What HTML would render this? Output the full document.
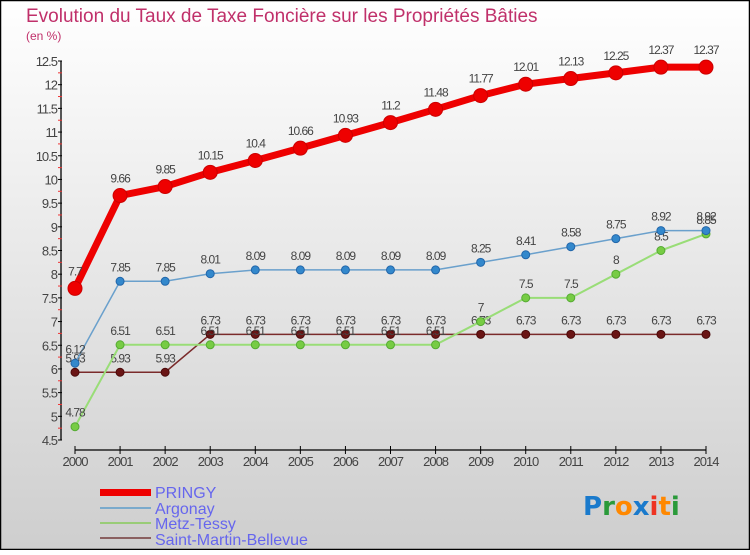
<!DOCTYPE html>
<html><head><meta charset="utf-8"><style>
html,body{margin:0;padding:0}
body{width:750px;height:550px;overflow:hidden;font-family:"Liberation Sans",sans-serif}
</style></head><body>
<svg id="chart" width="750" height="550" xmlns="http://www.w3.org/2000/svg">
<defs><linearGradient id="bg" x1="0" y1="0" x2="0" y2="1"><stop offset="0" stop-color="#ffffff"/><stop offset="1" stop-color="#cecece"/></linearGradient></defs>
<rect x="0.5" y="0.5" width="749" height="549" fill="url(#bg)" stroke="#000" stroke-width="1.5"/>
<text x="26" y="22" font-size="19" fill="#c0306a">Evolution du Taux de Taxe Foncière sur les Propriétés Bâties</text>
<text x="26" y="40" font-size="12" fill="#c0306a">(en %)</text>
<g id="axes"></g><g id="series"></g>
<g font-size="16" fill="#6666ee">
<rect x="100" y="489" width="51" height="7" fill="#ee0000"/>
<text x="155" y="498">PRINGY</text>
<rect x="100" y="507" width="51" height="2" fill="#7aaacc"/>
<text x="155" y="514">Argonay</text>
<rect x="100" y="522" width="51" height="2" fill="#99cc77"/>
<text x="155" y="529">Metz-Tessy</text>
<rect x="100" y="537" width="51" height="2" fill="#8a6060"/>
<text x="155" y="545">Saint-Martin-Bellevue</text>
</g>
<text x="583" y="515" font-size="26" font-family="DejaVu Sans" font-weight="bold"><tspan fill="#1a7acc">P</tspan><tspan fill="#2a9a3a">r</tspan><tspan fill="#ff8800">o</tspan><tspan fill="#1a7acc">x</tspan><tspan fill="#ee3322">i</tspan><tspan fill="#ff8800">t</tspan><tspan fill="#2a9a3a">i</tspan></text>
</svg>
<script>
const years=[2000,2001,2002,2003,2004,2005,2006,2007,2008,2009,2010,2011,2012,2013,2014];
const pringy=[7.7,9.66,9.85,10.15,10.4,10.66,10.93,11.2,11.48,11.77,12.01,12.13,12.25,12.37,12.37];
const argonay=[6.12,7.85,7.85,8.01,8.09,8.09,8.09,8.09,8.09,8.25,8.41,8.58,8.75,8.92,8.92];
const metz=[4.78,6.51,6.51,6.51,6.51,6.51,6.51,6.51,6.51,7,7.5,7.5,8,8.5,8.85];
const smb=[5.93,5.93,5.93,6.73,6.73,6.73,6.73,6.73,6.73,6.73,6.73,6.73,6.73,6.73,6.73];
const yTicks=[4.5,5,5.5,6,6.5,7,7.5,8,8.5,9,9.5,10,10.5,11,11.5,12,12.5];
const NS='http://www.w3.org/2000/svg';
const x=i=>75+i*(631/14);
const y=v=>440-(v-4.5)*(379/8);
function mk(t,a,p){const e=document.createElementNS(NS,t);for(const k in a)e.setAttribute(k,a[k]);p.appendChild(e);return e;}
const ax=document.getElementById('axes'),sg=document.getElementById('series');
const yl=mk('line',{x1:61,y1:y(12.5),x2:61,y2:y(4.5),stroke:'#000','stroke-width':1.3},ax);


yTicks.forEach((t,i)=>{
  mk('line',{x1:58,y1:y(t),x2:62,y2:y(t),stroke:'#000'},ax);
  if(i<yTicks.length-1)mk('line',{x1:58,y1:y(t+0.25),x2:62,y2:y(t+0.25),stroke:'#e33'},ax);
  const tx=mk('text',{x:57,y:y(t)+5,'text-anchor':'end','font-size':13,fill:'#444','letter-spacing':'-1'},ax);
  tx.textContent=String(t);
  
  
});
const xl=mk('line',{x1:x(0),y1:450,x2:x(14),y2:450,stroke:'#000','stroke-width':1.3},ax);


years.forEach((yr,i)=>{
  mk('line',{x1:x(i),y1:446,x2:x(i),y2:454,stroke:'#000'},ax);
  const tx=mk('text',{x:x(i),y:466,'text-anchor':'middle','font-size':13,fill:'#444','letter-spacing':'-1'},ax);
  tx.textContent=String(yr);
  
  
});
function series(vals,name,col,w,r,fill,stroke){
  const g=mk('g',{},sg);
  
  
  mk('polyline',{points:vals.map((v,i)=>x(i)+','+y(v)).join(' '),fill:'none',stroke:col,'stroke-width':w,'stroke-linejoin':'round'},g);
  vals.forEach((v,i)=>{
    const c=mk('circle',{cx:x(i),cy:y(v),r:r,fill:fill,stroke:stroke},g);
    
    
    const t=mk('text',{x:x(i),y:y(v)-(r+6),'text-anchor':'middle','font-size':12,fill:'#444','letter-spacing':'-1'},g);
    t.textContent=String(v);
    
    
  });
}
series(smb,'saint-martin','#7a2a2a',1.5,4,'#6a1515','#4a0a0a');
series(metz,'metz-tessy','#99dd77',2,4,'#77cc44','#55aa33');
series(argonay,'argonay','#6aa0cc',1.5,4,'#3388cc','#2266aa');
series(pringy,'pringy','#ee0000',7,7,'#ee0000','#cc0000');
</script>
</body></html>
